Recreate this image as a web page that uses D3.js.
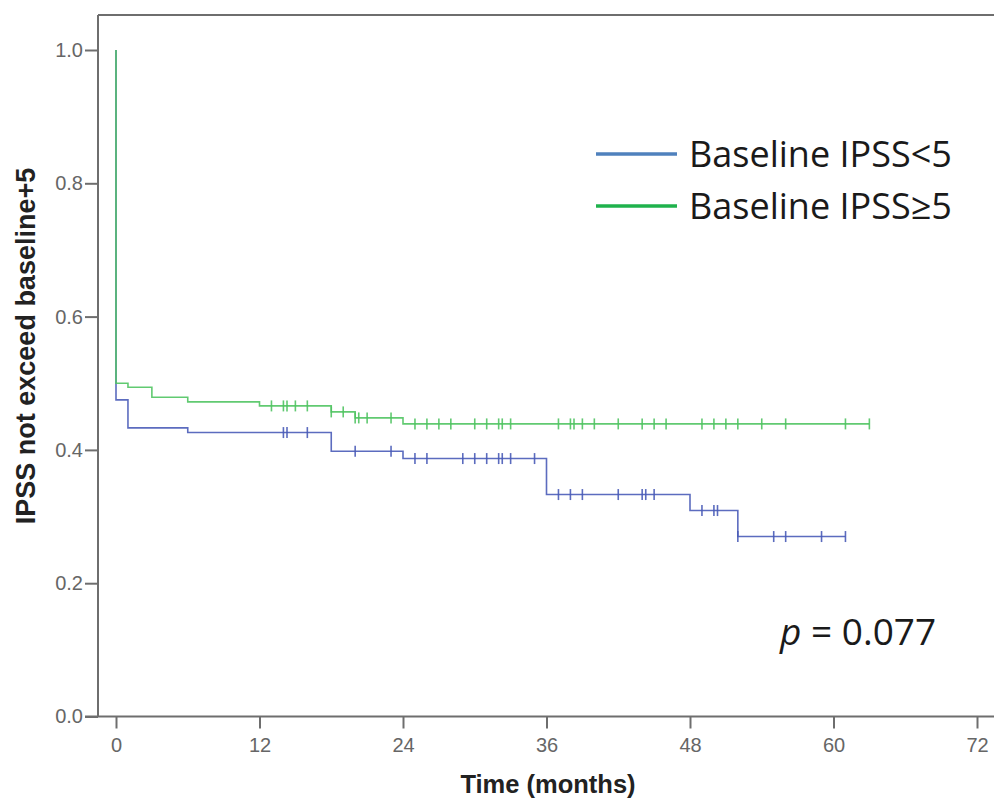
<!DOCTYPE html>
<html>
<head>
<meta charset="utf-8">
<script src="https://cdn.jsdelivr.net/npm/d3@7"></script>
<style>
  body { margin: 0; background: #fff; }
</style>
</head>
<body>
<script>
// step times and survival values for each group
const lowTimes = [0, 0, 1, 6, 18, 24, 36, 48, 52];
const lowSurv = [1.0, 0.475, 0.433, 0.426, 0.398, 0.387, 0.333, 0.309, 0.270];
const lowEnd = 61;
const lowCensor = [14, 14.3, 16, 20, 23, 25, 26, 29, 30, 31, 32, 32.3, 33, 35, 37, 38, 39, 42, 44, 44.3, 45, 49, 50, 50.3, 52, 55, 56, 59, 61];

const highTimes = [0, 0, 1, 3, 6, 12, 18, 20, 24];
const highSurv = [1.0, 0.500, 0.494, 0.479, 0.472, 0.466, 0.457, 0.448, 0.439];
const highEnd = 63;
const highCensor = [13, 14, 14.3, 15, 16, 18, 19, 20, 20.3, 21, 23, 25, 26, 27, 28, 30, 31, 32, 32.3, 33, 37, 38, 38.3, 39, 40, 42, 44, 45, 46, 49, 50, 51, 52, 54, 56, 61, 63];

const xTicks = [0, 12, 24, 36, 48, 60, 72];
const yTicks = [0.0, 0.2, 0.4, 0.6, 0.8, 1.0];
const legendLabels = ["Baseline IPSS<5", "Baseline IPSS\u22655"];

function dataV() {
  const width = 994, height = 801;
  const left = 98, top = 15, bottom = 716.5;

  const x = d3.scaleLinear().domain([0, 72]).range([116, 977]);
  const y = d3.scaleLinear().domain([0, 1]).range([bottom, 50]);

  const svg = d3.select("body").append("svg")
    .attr("width", width).attr("height", height);

  // frame: top border, left and bottom axes
  svg.append("line").attr("x1", left).attr("x2", width)
    .attr("y1", top).attr("y2", top)
    .attr("stroke", "#6e6e6e").attr("stroke-width", 2);

  const yAxis = svg.append("g")
    .attr("transform", "translate(" + left + ",0)")
    .call(d3.axisLeft(y).tickValues(yTicks).tickFormat(d3.format(".1f")).tickSize(13).tickSizeOuter(0));
  yAxis.select(".domain").remove();
  svg.append("line").attr("x1", left).attr("x2", left)
    .attr("y1", top).attr("y2", bottom)
    .attr("stroke", "#6e6e6e").attr("stroke-width", 2);

  const xAxis = svg.append("g")
    .attr("transform", "translate(0," + bottom + ")")
    .call(d3.axisBottom(x).tickValues(xTicks).tickSize(12).tickSizeOuter(0));
  xAxis.select(".domain").remove();
  svg.append("line").attr("x1", left - 13).attr("x2", width)
    .attr("y1", bottom).attr("y2", bottom)
    .attr("stroke", "#6e6e6e").attr("stroke-width", 2);

  [xAxis, yAxis].forEach((g) => {
    g.selectAll(".tick line").attr("stroke", "#6e6e6e").attr("stroke-width", 2);
    g.selectAll(".tick text")
      .attr("fill", "#666")
      .style("font-family", "Liberation Sans, Arial, sans-serif")
      .style("font-size", "20px");
  });
  xAxis.selectAll(".tick text").attr("y", 21);
  yAxis.selectAll(".tick text").attr("x", -15);

  // axis titles
  svg.append("text")
    .attr("x", 548).attr("y", 793)
    .attr("text-anchor", "middle")
    .style("font-family", "Liberation Sans, Arial, sans-serif")
    .style("font-weight", "bold").style("font-size", "25.5px")
    .attr("fill", "#222")
    .text("Time (months)");

  svg.append("text")
    .attr("transform", "translate(35,346) rotate(-90)")
    .attr("text-anchor", "middle")
    .style("font-family", "Liberation Sans, Arial, sans-serif")
    .style("font-weight", "bold").style("font-size", "27px")
    .attr("fill", "#222")
    .text("IPSS not exceed baseline+5");

  // step curves
  function stepData(times, surv, end) {
    const pts = times.map((t, i) => ({ t: t, s: surv[i] }));
    pts.push({ t: end, s: surv[surv.length - 1] });
    return pts;
  }
  function survAt(times, surv, t) {
    let s = surv[0];
    times.forEach((tt, i) => { if (tt <= t) s = surv[i]; });
    return s;
  }

  const line = d3.line()
    .x((d) => x(d.t))
    .y((d) => y(d.s))
    .curve(d3.curveStepAfter);

  const groups = [
    { times: lowTimes, surv: lowSurv, end: lowEnd, censor: lowCensor, color: "#4a5cb8" },
    { times: highTimes, surv: highSurv, end: highEnd, censor: highCensor, color: "#50c462" }
  ];

  groups.forEach((g) => {
    svg.append("path")
      .datum(stepData(g.times, g.surv, g.end))
      .attr("d", line)
      .attr("fill", "none")
      .attr("stroke", g.color)
      .attr("stroke-width", 1.6)
      .attr("opacity", 0.9);

    svg.selectAll(null)
      .data(g.censor)
      .enter()
      .append("line")
      .attr("x1", (d) => x(d)).attr("x2", (d) => x(d))
      .attr("y1", (d) => y(survAt(g.times, g.surv, d)) - 5.5)
      .attr("y2", (d) => y(survAt(g.times, g.surv, d)) + 5.5)
      .attr("stroke", g.color)
      .attr("stroke-width", 1.6)
      .attr("opacity", 0.9);
  });

  // legend
  const legendColors = ["#4f81bd", "#1fb24c"];
  legendLabels.forEach((lab, i) => {
    const ly = 154 + i * 52;
    svg.append("line")
      .attr("x1", 596).attr("x2", 677)
      .attr("y1", ly).attr("y2", ly)
      .attr("stroke", legendColors[i]).attr("stroke-width", 3.5);
    svg.append("text")
      .attr("x", 689).attr("y", ly + 13)
      .style("font-family", "Open Sans, Noto Sans, sans-serif")
      .style("font-size", "36px")
      .attr("fill", "#1a1a1a")
      .text(lab);
  });

  // p value
  const pt = svg.append("text")
    .attr("x", 780).attr("y", 645)
    .style("font-family", "Open Sans, Noto Sans, sans-serif")
    .style("font-size", "37px")
    .attr("fill", "#1a1a1a");
  pt.append("tspan").style("font-style", "italic").text("p");
  pt.append("tspan").text(" = 0.077");
}

window.addEventListener("load", dataV);
</script>
</body>
</html>
